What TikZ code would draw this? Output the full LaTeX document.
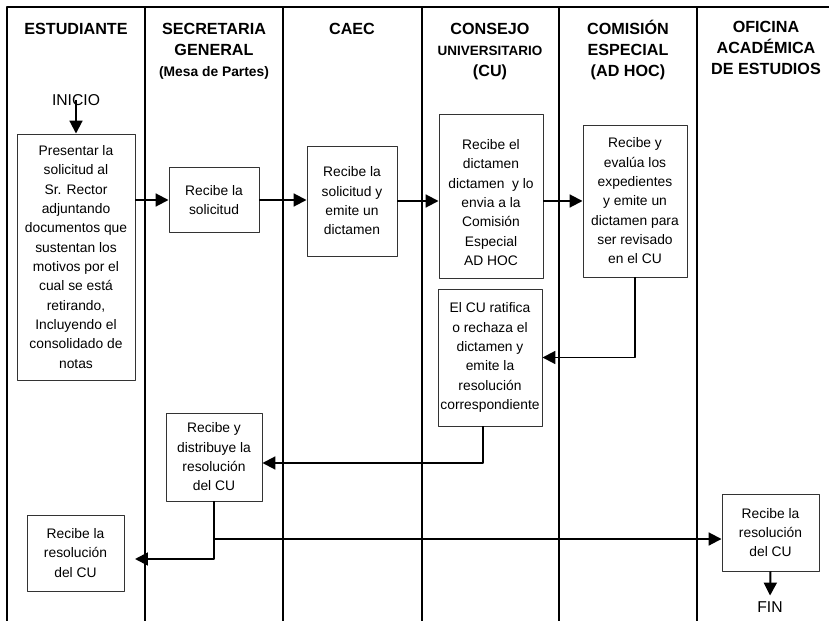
\documentclass[tikz,border=0pt]{standalone}
\usepackage{fontspec}
\setmainfont{Liberation Sans}
\usetikzlibrary{arrows.meta}

\begin{document}
\begin{tikzpicture}[x=0.03cm, y=-0.03cm, line join=round,
	carril/.style={line width=1.4pt},
	caja/.style 2 args={draw=black!80, line width=0.8pt, align=center, inner sep=0pt,
		minimum width=#1*0.03cm, minimum height=#2*0.03cm,
		font=\fontsize{11.8}{16.5}\selectfont},
	titulo/.style={align=center, anchor=base, inner sep=0pt,
		font=\fontsize{13.8}{18.2}\selectfont\bfseries},
	texto/.style={inner sep=1pt, font=\fontsize{13.4}{15}\selectfont},
	flecha/.style={line width=1.7pt, -{Triangle[length=11pt,width=11pt]}}]
	\useasboundingbox (0,0) rectangle (829,621);
	% carriles
	\draw[carril] (829,7) -- (7,7) -- (7,621);
	\foreach \x in {145,283,422,559,697}
		\draw[carril] (\x,7) -- (\x,621);
	% cabeceras (anclada en la ultima linea)
	\node[titulo] (tEst) at (76,35) {ESTUDIANTE};
	\node[titulo] (tSec) at (214,77) {SECRETARIA\\GENERAL\\{\fontsize{11.8}{18.2}\selectfont(Mesa de Partes)}};
	\node[titulo] (tCaec) at (352,35) {CAEC};
	\node[titulo] (tCons) at (490,77) {CONSEJO\\{\fontsize{11.5}{18.2}\selectfont UNIVERSITARIO}\\(CU)};
	\node[titulo] (tCom) at (628,77) {COMISIÓN\\ESPECIAL\\(AD HOC)};
	\node[titulo] (tOfi) at (766,75) {OFICINA\\ACADÉMICA\\DE ESTUDIOS};
	% pasos
	\node[texto] (inicio) at (76,100) {INICIO};
	\node[caja={118}{246}] (p1) at (76,257) {Presentar la\\solicitud al\\Sr. Rector\\adjuntando\\documentos que\\sustentan los\\motivos por el\\cual se está\\retirando,\\Incluyendo el\\consolidado de\\notas};
	\node[caja={90}{65}] (p2) at (214,200) {Recibe la\\solicitud};
	\node[caja={90}{110}] (p3) at (352,201) {Recibe la\\solicitud y\\emite un\\dictamen};
	\node[caja={104}{164}, text height=118.6pt, text depth=0pt] (p4) at (491,196) {Recibe el\\dictamen\\dictamen~ y lo\\envia a la\\Comisión\\Especial\\AD HOC};
	\node[caja={104}{152}] (p6) at (635,201) {Recibe y\\evalúa los\\expedientes\\y emite un\\dictamen para\\ser revisado\\en el CU};
	\node[caja={104}{137}] (p5) at (490,357.5) {El CU ratifica\\o rechaza el\\dictamen y\\emite la\\resolución\\correspondiente};
	\node[caja={96}{88}] (p7) at (214,457) {Recibe y\\distribuye la\\resolución\\del CU};
	\node[caja={97}{76}] (p8) at (75.5,553) {Recibe la\\resolución\\del CU};
	\node[caja={97}{77}] (p9) at (770.5,532.5) {Recibe la\\resolución\\del CU};
	\node[texto] (fin) at (770,607) {FIN};
	\coordinate (c1) at (483,463);
	\coordinate (c2) at (214,559);
	\coordinate (c3) at (214,539);
	% conectores
	\draw[flecha] (inicio.center) -- (p1.north);
	\draw[flecha] (p1.east |- p2.west) -- (p2.west);
	\draw[flecha] (p2.east) -- (p2.east -| p3.west);
	\draw[flecha] (p3.east) -- (p3.east -| p4.west);
	\draw[flecha] (p6.west -| p4.east) -- (p6.west);
	\draw[flecha] (p6.south) -- (p6.south |- p5.east) -- (p5.east);
	\draw[flecha] (c1 |- p5.south) -- (c1) -- (c1 -| p7.east);
	\draw[flecha, shorten >=9pt] (p7.south) -- (c2) -- (c2 -| p8.east);
	\draw[flecha] (c3) -- (c3 -| p9.west);
	\draw[flecha, shorten >=4pt] (p9.south) -- (fin.north);
\end{tikzpicture}
\end{document}
